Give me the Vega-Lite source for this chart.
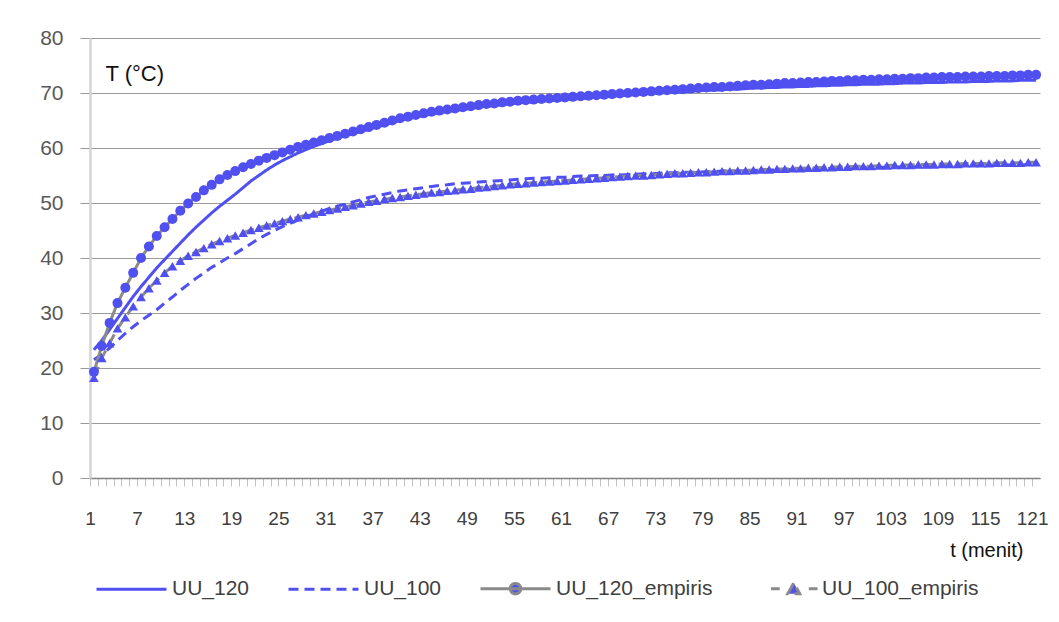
{
"$schema": "https://vega.github.io/schema/vega-lite/v6.json",
"width": 950, "height": 440,
"autosize": {"type": "none"},
"padding": {"left": 90, "top": 38, "right": 19, "bottom": 144},
"background": "white",
"config": {"view": {"stroke": null}, "font": "Liberation Sans", "axis": {"labelFont": "Liberation Sans", "titleFont": "Liberation Sans"}, "legend": {"labelFont": "Liberation Sans"}},
"data": {"values": [
{"t":1,"UU_120":23.3,"UU_100":21.5,"UU_120_empiris":19.3,"UU_100_empiris":18.2},
{"t":2,"UU_120":25.0,"UU_100":22.5,"UU_120_empiris":24.0,"UU_100_empiris":21.8},
{"t":3,"UU_120":27.0,"UU_100":23.6,"UU_120_empiris":28.2,"UU_100_empiris":24.5},
{"t":4,"UU_120":29.0,"UU_100":25.0,"UU_120_empiris":31.8,"UU_100_empiris":27.2},
{"t":5,"UU_120":31.0,"UU_100":26.3,"UU_120_empiris":34.6,"UU_100_empiris":29.2},
{"t":6,"UU_120":33.0,"UU_100":27.5,"UU_120_empiris":37.3,"UU_100_empiris":31.2},
{"t":7,"UU_120":34.8,"UU_100":28.6,"UU_120_empiris":40.0,"UU_100_empiris":32.9},
{"t":8,"UU_120":36.5,"UU_100":29.6,"UU_120_empiris":42.1,"UU_100_empiris":34.5},
{"t":9,"UU_120":38.2,"UU_100":30.6,"UU_120_empiris":44.0,"UU_100_empiris":35.9},
{"t":10,"UU_120":39.7,"UU_100":31.8,"UU_120_empiris":45.6,"UU_100_empiris":37.3},
{"t":11,"UU_120":41.2,"UU_100":32.9,"UU_120_empiris":47.1,"UU_100_empiris":38.5},
{"t":12,"UU_120":42.7,"UU_100":34.1,"UU_120_empiris":48.6,"UU_100_empiris":39.5},
{"t":13,"UU_120":44.2,"UU_100":35.2,"UU_120_empiris":49.9,"UU_100_empiris":40.4},
{"t":14,"UU_120":45.6,"UU_100":36.3,"UU_120_empiris":51.1,"UU_100_empiris":41.1},
{"t":15,"UU_120":46.9,"UU_100":37.3,"UU_120_empiris":52.3,"UU_100_empiris":41.8},
{"t":16,"UU_120":48.2,"UU_100":38.3,"UU_120_empiris":53.3,"UU_100_empiris":42.5},
{"t":17,"UU_120":49.4,"UU_100":39.1,"UU_120_empiris":54.3,"UU_100_empiris":43.1},
{"t":18,"UU_120":50.5,"UU_100":40.0,"UU_120_empiris":55.1,"UU_100_empiris":43.6},
{"t":19,"UU_120":51.6,"UU_100":40.8,"UU_120_empiris":55.8,"UU_100_empiris":44.1},
{"t":20,"UU_120":52.8,"UU_100":41.7,"UU_120_empiris":56.5,"UU_100_empiris":44.6},
{"t":21,"UU_120":54.0,"UU_100":42.6,"UU_120_empiris":57.1,"UU_100_empiris":45.1},
{"t":22,"UU_120":55.0,"UU_100":43.5,"UU_120_empiris":57.7,"UU_100_empiris":45.5},
{"t":23,"UU_120":56.0,"UU_100":44.3,"UU_120_empiris":58.2,"UU_100_empiris":45.9},
{"t":24,"UU_120":56.9,"UU_100":45.0,"UU_120_empiris":58.7,"UU_100_empiris":46.3},
{"t":25,"UU_120":57.7,"UU_100":45.7,"UU_120_empiris":59.2,"UU_100_empiris":46.7},
{"t":26,"UU_120":58.4,"UU_100":46.3,"UU_120_empiris":59.7,"UU_100_empiris":47.1},
{"t":27,"UU_120":59.1,"UU_100":46.9,"UU_120_empiris":60.2,"UU_100_empiris":47.4},
{"t":28,"UU_120":59.7,"UU_100":47.5,"UU_120_empiris":60.6,"UU_100_empiris":47.8},
{"t":29,"UU_120":60.3,"UU_100":48.0,"UU_120_empiris":61.0,"UU_100_empiris":48.1},
{"t":30,"UU_120":60.8,"UU_100":48.5,"UU_120_empiris":61.4,"UU_100_empiris":48.4},
{"t":31,"UU_120":61.3,"UU_100":49.0,"UU_120_empiris":61.8,"UU_100_empiris":48.7},
{"t":32,"UU_120":61.8,"UU_100":49.4,"UU_120_empiris":62.2,"UU_100_empiris":49.0},
{"t":33,"UU_120":62.2,"UU_100":49.8,"UU_120_empiris":62.6,"UU_100_empiris":49.3},
{"t":34,"UU_120":62.6,"UU_100":50.2,"UU_120_empiris":63.0,"UU_100_empiris":49.6},
{"t":35,"UU_120":63.0,"UU_100":50.6,"UU_120_empiris":63.4,"UU_100_empiris":49.9},
{"t":36,"UU_120":63.4,"UU_100":51.0,"UU_120_empiris":63.8,"UU_100_empiris":50.2},
{"t":37,"UU_120":63.8,"UU_100":51.3,"UU_120_empiris":64.2,"UU_100_empiris":50.4},
{"t":38,"UU_120":64.2,"UU_100":51.6,"UU_120_empiris":64.6,"UU_100_empiris":50.7},
{"t":39,"UU_120":64.6,"UU_100":51.9,"UU_120_empiris":65.0,"UU_100_empiris":50.9},
{"t":40,"UU_120":65.0,"UU_100":52.2,"UU_120_empiris":65.4,"UU_100_empiris":51.1},
{"t":41,"UU_120":65.3,"UU_100":52.4,"UU_120_empiris":65.7,"UU_100_empiris":51.3},
{"t":42,"UU_120":65.6,"UU_100":52.6,"UU_120_empiris":66.0,"UU_100_empiris":51.5},
{"t":43,"UU_120":65.9,"UU_100":52.8,"UU_120_empiris":66.3,"UU_100_empiris":51.7},
{"t":44,"UU_120":66.2,"UU_100":53.0,"UU_120_empiris":66.6,"UU_100_empiris":51.9},
{"t":45,"UU_120":66.4,"UU_100":53.2,"UU_120_empiris":66.8,"UU_100_empiris":52.0},
{"t":46,"UU_120":66.6,"UU_100":53.3,"UU_120_empiris":67.0,"UU_100_empiris":52.2},
{"t":47,"UU_120":66.8,"UU_100":53.5,"UU_120_empiris":67.2,"UU_100_empiris":52.3},
{"t":48,"UU_120":67.0,"UU_100":53.6,"UU_120_empiris":67.4,"UU_100_empiris":52.5},
{"t":49,"UU_120":67.2,"UU_100":53.7,"UU_120_empiris":67.6,"UU_100_empiris":52.6},
{"t":50,"UU_120":67.4,"UU_100":53.8,"UU_120_empiris":67.8,"UU_100_empiris":52.8},
{"t":51,"UU_120":67.6,"UU_100":53.9,"UU_120_empiris":68.0,"UU_100_empiris":52.9},
{"t":52,"UU_120":67.7,"UU_100":54.0,"UU_120_empiris":68.1,"UU_100_empiris":53.1},
{"t":53,"UU_120":67.9,"UU_100":54.1,"UU_120_empiris":68.3,"UU_100_empiris":53.2},
{"t":54,"UU_120":68.0,"UU_100":54.2,"UU_120_empiris":68.4,"UU_100_empiris":53.4},
{"t":55,"UU_120":68.2,"UU_100":54.3,"UU_120_empiris":68.6,"UU_100_empiris":53.5},
{"t":56,"UU_120":68.3,"UU_100":54.4,"UU_120_empiris":68.7,"UU_100_empiris":53.6},
{"t":57,"UU_120":68.4,"UU_100":54.5,"UU_120_empiris":68.8,"UU_100_empiris":53.7},
{"t":58,"UU_120":68.5,"UU_100":54.5,"UU_120_empiris":68.9,"UU_100_empiris":53.8},
{"t":59,"UU_120":68.6,"UU_100":54.6,"UU_120_empiris":69.0,"UU_100_empiris":53.9},
{"t":60,"UU_120":68.7,"UU_100":54.7,"UU_120_empiris":69.1,"UU_100_empiris":54.0},
{"t":61,"UU_120":68.8,"UU_100":54.7,"UU_120_empiris":69.2,"UU_100_empiris":54.1},
{"t":62,"UU_120":68.9,"UU_100":54.8,"UU_120_empiris":69.3,"UU_100_empiris":54.2},
{"t":63,"UU_120":69.0,"UU_100":54.9,"UU_120_empiris":69.4,"UU_100_empiris":54.3},
{"t":64,"UU_120":69.1,"UU_100":54.9,"UU_120_empiris":69.5,"UU_100_empiris":54.4},
{"t":65,"UU_120":69.2,"UU_100":55.0,"UU_120_empiris":69.6,"UU_100_empiris":54.5},
{"t":66,"UU_120":69.3,"UU_100":55.0,"UU_120_empiris":69.7,"UU_100_empiris":54.6},
{"t":67,"UU_120":69.4,"UU_100":55.1,"UU_120_empiris":69.8,"UU_100_empiris":54.7},
{"t":68,"UU_120":69.5,"UU_100":55.1,"UU_120_empiris":69.9,"UU_100_empiris":54.8},
{"t":69,"UU_120":69.6,"UU_100":55.2,"UU_120_empiris":70.0,"UU_100_empiris":54.9},
{"t":70,"UU_120":69.7,"UU_100":55.2,"UU_120_empiris":70.1,"UU_100_empiris":55.0},
{"t":71,"UU_120":69.8,"UU_100":55.3,"UU_120_empiris":70.2,"UU_100_empiris":55.0},
{"t":72,"UU_120":69.9,"UU_100":55.3,"UU_120_empiris":70.3,"UU_100_empiris":55.1},
{"t":73,"UU_120":70.0,"UU_100":55.4,"UU_120_empiris":70.4,"UU_100_empiris":55.2},
{"t":74,"UU_120":70.1,"UU_100":55.5,"UU_120_empiris":70.5,"UU_100_empiris":55.3},
{"t":75,"UU_120":70.2,"UU_100":55.5,"UU_120_empiris":70.6,"UU_100_empiris":55.4},
{"t":76,"UU_120":70.2,"UU_100":55.6,"UU_120_empiris":70.7,"UU_100_empiris":55.4},
{"t":77,"UU_120":70.3,"UU_100":55.6,"UU_120_empiris":70.8,"UU_100_empiris":55.5},
{"t":78,"UU_120":70.4,"UU_100":55.6,"UU_120_empiris":70.9,"UU_100_empiris":55.6},
{"t":79,"UU_120":70.5,"UU_100":55.7,"UU_120_empiris":71.0,"UU_100_empiris":55.6},
{"t":80,"UU_120":70.5,"UU_100":55.7,"UU_120_empiris":71.1,"UU_100_empiris":55.7},
{"t":81,"UU_120":70.6,"UU_100":55.8,"UU_120_empiris":71.1,"UU_100_empiris":55.8},
{"t":82,"UU_120":70.7,"UU_100":55.8,"UU_120_empiris":71.2,"UU_100_empiris":55.8},
{"t":83,"UU_120":70.7,"UU_100":55.8,"UU_120_empiris":71.3,"UU_100_empiris":55.9},
{"t":84,"UU_120":70.8,"UU_100":55.9,"UU_120_empiris":71.4,"UU_100_empiris":55.9},
{"t":85,"UU_120":70.9,"UU_100":55.9,"UU_120_empiris":71.5,"UU_100_empiris":56.0},
{"t":86,"UU_120":70.9,"UU_100":56.0,"UU_120_empiris":71.5,"UU_100_empiris":56.1},
{"t":87,"UU_120":71.0,"UU_100":56.0,"UU_120_empiris":71.6,"UU_100_empiris":56.1},
{"t":88,"UU_120":71.0,"UU_100":56.0,"UU_120_empiris":71.7,"UU_100_empiris":56.2},
{"t":89,"UU_120":71.1,"UU_100":56.1,"UU_120_empiris":71.8,"UU_100_empiris":56.2},
{"t":90,"UU_120":71.1,"UU_100":56.1,"UU_120_empiris":71.8,"UU_100_empiris":56.3},
{"t":91,"UU_120":71.2,"UU_100":56.1,"UU_120_empiris":71.9,"UU_100_empiris":56.3},
{"t":92,"UU_120":71.2,"UU_100":56.2,"UU_120_empiris":72.0,"UU_100_empiris":56.4},
{"t":93,"UU_120":71.3,"UU_100":56.2,"UU_120_empiris":72.0,"UU_100_empiris":56.4},
{"t":94,"UU_120":71.3,"UU_100":56.2,"UU_120_empiris":72.1,"UU_100_empiris":56.5},
{"t":95,"UU_120":71.4,"UU_100":56.3,"UU_120_empiris":72.2,"UU_100_empiris":56.5},
{"t":96,"UU_120":71.4,"UU_100":56.3,"UU_120_empiris":72.2,"UU_100_empiris":56.6},
{"t":97,"UU_120":71.5,"UU_100":56.3,"UU_120_empiris":72.3,"UU_100_empiris":56.6},
{"t":98,"UU_120":71.5,"UU_100":56.4,"UU_120_empiris":72.3,"UU_100_empiris":56.7},
{"t":99,"UU_120":71.6,"UU_100":56.4,"UU_120_empiris":72.4,"UU_100_empiris":56.7},
{"t":100,"UU_120":71.6,"UU_100":56.4,"UU_120_empiris":72.4,"UU_100_empiris":56.7},
{"t":101,"UU_120":71.6,"UU_100":56.5,"UU_120_empiris":72.5,"UU_100_empiris":56.8},
{"t":102,"UU_120":71.7,"UU_100":56.5,"UU_120_empiris":72.5,"UU_100_empiris":56.8},
{"t":103,"UU_120":71.7,"UU_100":56.5,"UU_120_empiris":72.6,"UU_100_empiris":56.9},
{"t":104,"UU_120":71.8,"UU_100":56.6,"UU_120_empiris":72.6,"UU_100_empiris":56.9},
{"t":105,"UU_120":71.8,"UU_100":56.6,"UU_120_empiris":72.7,"UU_100_empiris":56.9},
{"t":106,"UU_120":71.8,"UU_100":56.6,"UU_120_empiris":72.7,"UU_100_empiris":57.0},
{"t":107,"UU_120":71.9,"UU_100":56.6,"UU_120_empiris":72.8,"UU_100_empiris":57.0},
{"t":108,"UU_120":71.9,"UU_100":56.7,"UU_120_empiris":72.8,"UU_100_empiris":57.0},
{"t":109,"UU_120":71.9,"UU_100":56.7,"UU_120_empiris":72.9,"UU_100_empiris":57.1},
{"t":110,"UU_120":72.0,"UU_100":56.7,"UU_120_empiris":72.9,"UU_100_empiris":57.1},
{"t":111,"UU_120":72.0,"UU_100":56.7,"UU_120_empiris":72.9,"UU_100_empiris":57.1},
{"t":112,"UU_120":72.0,"UU_100":56.8,"UU_120_empiris":73.0,"UU_100_empiris":57.2},
{"t":113,"UU_120":72.1,"UU_100":56.8,"UU_120_empiris":73.0,"UU_100_empiris":57.2},
{"t":114,"UU_120":72.1,"UU_100":56.8,"UU_120_empiris":73.0,"UU_100_empiris":57.2},
{"t":115,"UU_120":72.1,"UU_100":56.8,"UU_120_empiris":73.1,"UU_100_empiris":57.2},
{"t":116,"UU_120":72.2,"UU_100":56.9,"UU_120_empiris":73.1,"UU_100_empiris":57.3},
{"t":117,"UU_120":72.2,"UU_100":56.9,"UU_120_empiris":73.1,"UU_100_empiris":57.3},
{"t":118,"UU_120":72.2,"UU_100":56.9,"UU_120_empiris":73.2,"UU_100_empiris":57.3},
{"t":119,"UU_120":72.3,"UU_100":56.9,"UU_120_empiris":73.2,"UU_100_empiris":57.3},
{"t":120,"UU_120":72.3,"UU_100":57.0,"UU_120_empiris":73.3,"UU_100_empiris":57.4},
{"t":121,"UU_120":72.3,"UU_100":57.0,"UU_120_empiris":73.3,"UU_100_empiris":57.4}
]},
"transform": [{"fold": ["UU_120", "UU_100", "UU_120_empiris", "UU_100_empiris"], "as": ["series", "T"]}],
"encoding": {
  "x": {"field": "t", "type": "quantitative",
    "scale": {"domain": [0.5, 121.5], "nice": false, "zero": false},
    "axis": {
      "values": [1,2,3,4,5,6,7,8,9,10,11,12,13,14,15,16,17,18,19,20,21,22,23,24,25,26,27,28,29,30,31,32,33,34,35,36,37,38,39,40,41,42,43,44,45,46,47,48,49,50,51,52,53,54,55,56,57,58,59,60,61,62,63,64,65,66,67,68,69,70,71,72,73,74,75,76,77,78,79,80,81,82,83,84,85,86,87,88,89,90,91,92,93,94,95,96,97,98,99,100,101,102,103,104,105,106,107,108,109,110,111,112,113,114,115,116,117,118,119,120,121],
      "labelExpr": "(datum.value - 1) % 6 == 0 ? datum.label : ''",
      "labelOverlap": false, "labelFlush": false, "grid": false,
      "tickSize": 8, "tickColor": "#c4c4c4", "tickWidth": 1, "tickOffset": -3.93,
      "domainColor": "#7f7f7f", "domainWidth": 1.5,
      "labelFontSize": 19, "labelColor": "#404040", "labelPadding": 23,
      "title": "t (menit)", "titleX": 933, "titleY": 78, "titleAlign": "right", "titleBaseline": "alphabetic",
      "titleFontSize": 20, "titleFontWeight": "normal", "titleColor": "#111111"
    }},
  "y": {"field": "T", "type": "quantitative",
    "scale": {"domain": [0, 80], "nice": false},
    "axis": {
      "values": [0,10,20,30,40,50,60,70,80],
      "grid": true, "gridColor": "#9a9a9a", "gridWidth": 1,
      "tickColor": "#9a9a9a", "tickSize": 10,
      "domainColor": "#d4d4d4", "domainWidth": 2.5,
      "labelFontSize": 21, "labelColor": "#595959", "labelPadding": 17,
      "title": "T (°C)", "titleAngle": 0, "titleX": 15, "titleY": 42, "titleAlign": "left", "titleBaseline": "alphabetic",
      "titleFontSize": 22, "titleFontWeight": "normal", "titleColor": "#111111"
    }}
},
"layer": [
  {"mark": {"type": "line", "strokeWidth": 3},
   "encoding": {
     "color": {"field": "series", "type": "nominal",
       "scale": {"domain": ["UU_120", "UU_100", "UU_120_empiris", "UU_100_empiris"], "range": ["#4f4ff2", "#4f4ff2", "#8a8a8a", "#8a8a8a"]},
       "legend": {
         "title": null, "orient": "none", "legendX": 5, "legendY": 514,
         "direction": "horizontal", "columns": 4, "columnPadding": 32,
         "symbolSize": 4900, "labelFontSize": 21, "labelColor": "#404040", "labelOffset": 4,
         "encode": {"symbols": {"update": {
           "shape": {"signal": "datum.value === 'UU_120_empiris' ? 'M-1,0H1M0.15,0A0.15,0.15,0,1,1,-0.15,0A0.15,0.15,0,1,1,0.15,0Z' : (datum.value === 'UU_100_empiris' ? 'M-0.3,0H-0.05M0.18,0.14L0.35,-0.17L0.52,0.14ZM0.78,0H1.03' : 'M-1,0H1')"},
           "fill": {"signal": "indexof(datum.value, 'empiris') >= 0 ? '#5050f0' : 'transparent'"},
           "stroke": {"signal": "indexof(datum.value, 'empiris') >= 0 ? '#8a8a8a' : '#4f4ff2'"},
           "strokeDash": {"signal": "datum.value === 'UU_100' ? [5, 3] : [1, 0]"},
           "strokeWidth": {"value": 3},
           "opacity": {"value": 1}
         }}}
       }},
     "strokeDash": {"field": "series", "type": "nominal",
       "scale": {"domain": ["UU_120", "UU_100", "UU_120_empiris", "UU_100_empiris"], "range": [[1, 0], [10, 6], [1, 0], [12, 6]]},
       "legend": null}
   }},
  {"transform": [{"filter": "indexof(datum.series, 'empiris') >= 0"}],
   "mark": {"type": "point", "filled": true, "opacity": 1},
   "encoding": {
     "shape": {"field": "series", "type": "nominal",
       "scale": {"domain": ["UU_120_empiris", "UU_100_empiris"], "range": ["circle", "triangle-up"]},
       "legend": null},
     "size": {"field": "series", "type": "nominal",
       "scale": {"domain": ["UU_120_empiris", "UU_100_empiris"], "range": [100, 95]},
       "legend": null},
     "color": {"value": "#5050f0"}
   }}
]
}
